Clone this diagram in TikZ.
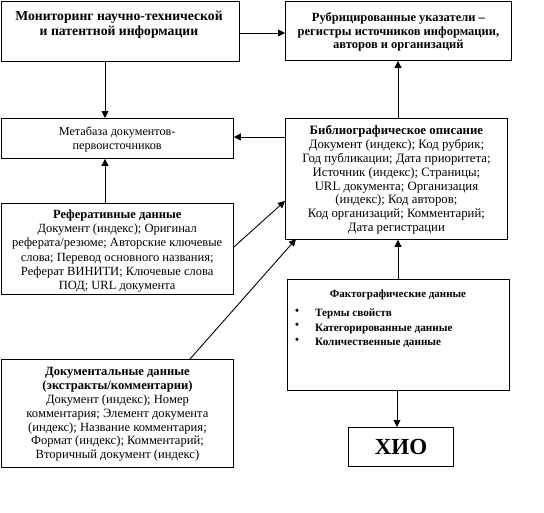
\documentclass[tikz,border=0pt]{standalone}
\usepackage{fontspec}
\setmainfont{Liberation Serif}
\usetikzlibrary{arrows.meta}
\begin{document}
\begin{tikzpicture}[x=1pt,y=-1pt,
  box/.style={draw,line width=0.9pt,inner sep=0pt},
  txt/.style={align=center,inner sep=0pt},
  arr/.style={line width=0.9pt,-{Triangle[length=7pt,width=7pt]}}]
\useasboundingbox (0,0) rectangle (544,512);
% boxes
\node[box,minimum width=238pt,minimum height=60pt,anchor=north west] (mon) at (0.5,0.5) {};
\node[txt,anchor=north,font=\fontsize{13.7}{15}\selectfont\bfseries] (montxt) at (119,11) {Мониторинг научно-технической\\и патентной информации};
\node[box,minimum width=226pt,minimum height=59pt,anchor=north west] (rub) at (285,1) {};
\node[txt,font=\fontsize{12.5}{13.5}\selectfont\bfseries] (rubtxt) at ([yshift=-1pt]rub.center) {Рубрицированные указатели --\\регистры источников информации,\\авторов и организаций};
\node[box,minimum width=232.5pt,minimum height=40pt,anchor=north west] (meta) at (0.5,118) {};
\node[txt,font=\fontsize{12.2}{13.5}\selectfont] (metatxt) at ([yshift=-1pt]meta.center) {Метабаза документов-\\первоисточников};
\node[box,minimum width=222pt,minimum height=121pt,anchor=north west] (bib) at (285,118) {};
\node[txt,font=\fontsize{12.8}{13.8}\selectfont] (bibtxt) at ([yshift=-1pt]bib.center) {\textbf{Библиографическое описание}\\Документ (индекс); Код рубрик;\\Год публикации; Дата приоритета;\\Источник (индекс); Страницы;\\URL документа; Организация\\(индекс); Код авторов;\\Код организаций; Комментарий;\\Дата регистрации};
\node[box,minimum width=232.5pt,minimum height=91pt,anchor=north west] (ref) at (0.5,203) {};
\node[txt,font=\fontsize{12.5}{14.3}\selectfont] (reftxt) at ([yshift=-2pt]ref.center) {\textbf{Реферативные данные}\\Документ (индекс); Оригинал\\реферата/резюме; Авторские ключевые\\слова; Перевод основного названия;\\Реферат ВИНИТИ; Ключевые слова\\ПОД; URL документа};
\node[box,minimum width=222pt,minimum height=111pt,anchor=north west] (fact) at (287,279) {};
\node[txt,anchor=north,font=\fontsize{11}{12}\selectfont\bfseries] (facttitle) at (398,290) {Фактографические данные};
\node[txt,anchor=north west,align=left,font=\fontsize{11.2}{14.5}\selectfont\bfseries] (factlist) at (295,309) {•\\•\\•};
\node[txt,anchor=north west,align=left,font=\fontsize{11.2}{14.5}\selectfont\bfseries] (factitems) at (315,309) {Термы свойств\\Категорированные данные\\Количественные данные};
\node[box,minimum width=232pt,minimum height=108pt,anchor=north west] (doc) at (1,359) {};
\node[txt,font=\fontsize{12.6}{13.8}\selectfont] (doctxt) at ([yshift=-1pt]doc.center) {\textbf{Документальные данные}\\\textbf{(экстракты/комментарии)}\\Документ (индекс); Номер\\комментария; Элемент документа\\(индекс); Название комментария;\\Формат (индекс); Комментарий;\\Вторичный документ (индекс)};
\node[box,minimum width=105pt,minimum height=39pt,anchor=north west] (hio) at (348,427) {};
\node[txt,font=\fontsize{23}{24}\selectfont\bfseries] (hiotxt) at (hio.center) {ХИО};
% connectors
\draw[arr] (mon.east |- 0,33) -- (rub.west |- 0,33);
\draw[arr] (mon.south -| 105,0) -- (meta.north -| 105,0);
\draw[arr] (bib.west |- 0,137) -- (meta.east |- 0,137);
\draw[arr] (bib.north -| 398,0) -- (rub.south -| 398,0);
\draw[arr] (ref.north -| 105,0) -- (meta.south -| 105,0);
\draw[arr] (ref.east |- 0,247) -- (bib.west |- 0,201);
\coordinate (docend) at (296,239);
\draw[arr] (doc.north -| 190,0) -- (docend);
\draw[arr] (fact.north -| 398,0) -- (bib.south -| 398,0);
\draw[arr] (fact.south -| 397,0) -- (hio.north -| 397,0);
\end{tikzpicture}
\end{document}
